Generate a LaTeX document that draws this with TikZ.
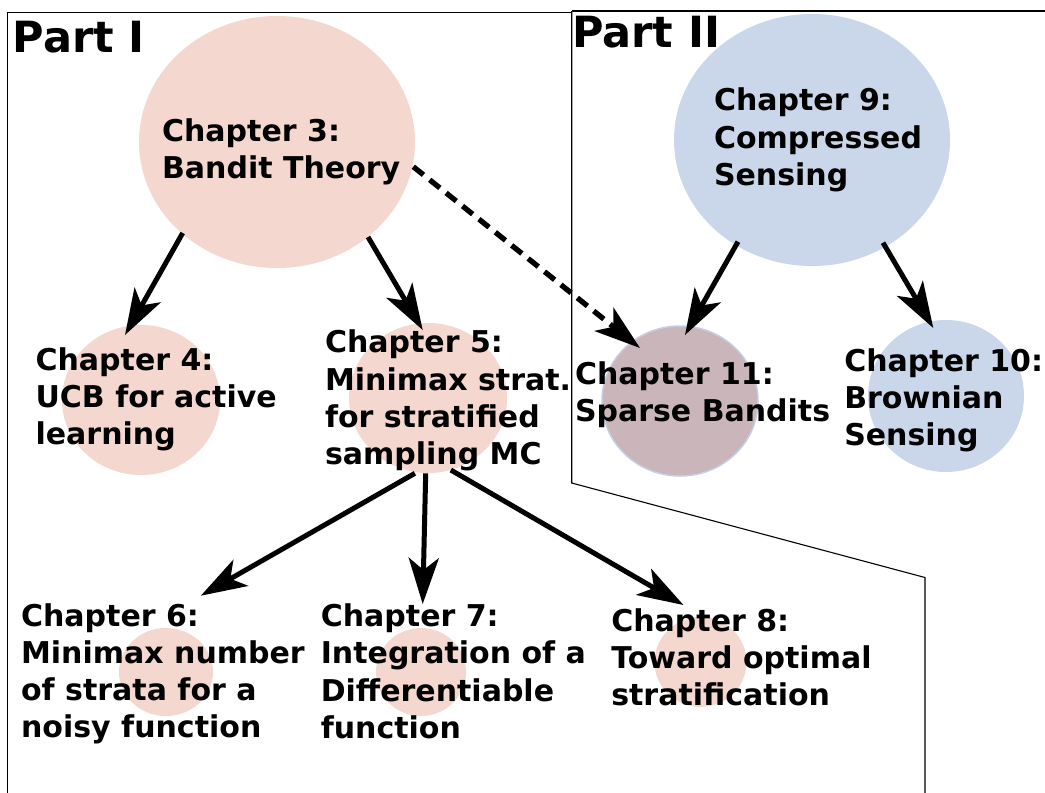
\documentclass[tikz,border=0pt]{standalone}
\usepackage{fontspec}
\setmainfont{DejaVu Sans}
\usetikzlibrary{shapes.geometric,arrows.meta}
\definecolor{pinkc}{RGB}{244,215,206}
\definecolor{bluec}{RGB}{202,214,233}
\definecolor{mauvec}{RGB}{201,181,186}
\definecolor{rimc}{RGB}{196,206,226}
\begin{document}
\begin{tikzpicture}[x=1pt,y=-1pt,
  blob/.style={ellipse, inner sep=0pt, draw=none},
  chtext/.style={anchor=north west, inner sep=0pt, outer sep=0pt, align=left,
    font=\fontsize{30}{37.2}\selectfont\bfseries},
  parttext/.style={anchor=base west, inner sep=0pt, outer sep=0pt,
    font=\fontsize{43}{50}\selectfont\bfseries},
  frame/.style={line width=1.1pt, black},
  arr/.style={line width=5pt, -{Stealth[length=46pt,width=30pt,inset=12pt]}},
  darr/.style={arr, line width=5.3pt, dash pattern=on 13pt off 8pt}]
\useasboundingbox (0,0) rectangle (1045,793);
\fill[white] (0,0) rectangle (1045,793);

% ellipses
\node[blob, fill=pinkc, minimum width=276pt, minimum height=252pt] (ch3) at (277,142) {};
\node[blob, fill=bluec, minimum width=276pt, minimum height=252pt] (ch9) at (812,140) {};
\node[blob, fill=pinkc, minimum width=158pt, minimum height=150pt] (ch4) at (141,400) {};
\node[blob, fill=pinkc, minimum width=158pt, minimum height=150pt] (ch5) at (428,398) {};
\node[blob, fill=mauvec, draw=rimc, line width=1.5pt, minimum width=156pt, minimum height=150pt] (ch11) at (680,401) {};
\node[blob, fill=bluec, minimum width=156pt, minimum height=152pt] (ch10) at (946,396) {};
\node[blob, fill=pinkc, minimum width=94pt, minimum height=88pt] (ch6) at (166,672) {};
\node[blob, fill=pinkc, minimum width=90pt, minimum height=88pt] (ch7) at (421,672) {};
\node[blob, fill=pinkc, minimum width=92pt, minimum height=90pt] (ch8) at (700.5,662) {};

% frames
\draw[frame] (7.5,793) -- (7.5,12.3) -- (571.7,12.3);
\draw[frame] (571.7,11) -- (1045,11);
\draw[frame] (571.7,11) -- (571.7,483) -- (925,577.5) -- (925,793);

% part titles
\node[parttext] (p1) at (12.8,52.3) {Part I};
\node[parttext] (p2) at (572,47) {Part II};

% chapter texts
\node[chtext] (t3) at (162.1,118.5) {Chapter 3:\\Bandit Theory};
\node[chtext] (t9) at (714,88.2) {Chapter 9:\\Compressed\\Sensing};
\node[chtext] (t4) at (35.6,347.5) {Chapter 4:\\UCB for active\\learning};
\node[chtext] (t5) at (325,330) {Chapter 5:\\Minimax strat.\\for stratified\\sampling MC};
\node[chtext] (t11) at (575,362) {Chapter 11:\\Sparse Bandits};
\node[chtext] (t10) at (844.3,348.5) {Chapter 10:\\Brownian\\Sensing};
\node[chtext] (t6) at (21.1,603.2) {Chapter 6:\\Minimax number\\of strata for a\\noisy function};
\node[chtext] (t7) at (320.8,603.9) {Chapter 7:\\Integration of a\\Differentiable\\function};
\node[chtext] (t8) at (611.3,608.2) {Chapter 8:\\Toward optimal\\stratification};

% connectors
\draw[arr] ([shift={(-94.3,91)}]ch3.center) -- ([shift={(-16,-65)}]ch4.center);
\draw[arr] ([shift={(91,95)}]ch3.center) -- ([shift={(-5.3,-68)}]ch5.center);
\draw[darr] ([shift={(136.3,24.7)}]ch3.center) -- ([shift={(-40,-53)}]ch11.center);
\draw[arr] ([shift={(-74,101.7)}]ch9.center) -- ([shift={(5,-66)}]ch11.center);
\draw[arr] ([shift={(71,102.7)}]ch9.center) -- ([shift={(-12.7,-68)}]ch10.center);
\draw[arr] ([shift={(-13.1,75.3)}]ch5.center) -- ([shift={(34.8,-76.3)}]ch6.center);
\draw[arr] ([shift={(-2.3,75.3)}]ch5.center) -- ([shift={(1.7,-68)}]ch7.center);
\draw[arr] ([shift={(22.8,72)}]ch5.center) -- ([shift={(-17,-57)}]ch8.center);
\end{tikzpicture}
\end{document}
